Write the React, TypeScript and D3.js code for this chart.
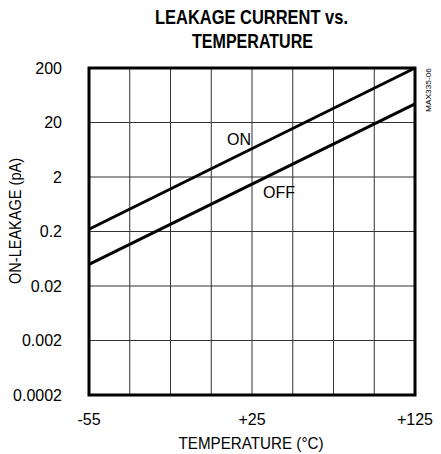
import React from "react";
import * as d3 from "d3";

const temps = [-55, 125];
const onLeakage = [0.22, 200];
const offLeakage = [0.05, 44];
const yTickValues = [0.0002, 0.002, 0.02, 0.2, 2, 20, 200];
const yTickLabels = ["0.0002", "0.002", "0.02", "0.2", "2", "20", "200"];
const xTickLabels = ["-55", "+25", "+125"];
const xGridCount = 8;

const W = 441;
const H = 454;
const margin = { left: 89, right: 26, top: 68, bottom: 59 };

export default function App() {
  const x = d3
    .scaleLinear()
    .domain([-55, 125])
    .range([margin.left, W - margin.right]);
  const y = d3
    .scaleLog()
    .domain([0.0002, 200])
    .range([H - margin.bottom, margin.top]);
  const xLabel = d3
    .scalePoint<string>()
    .domain(xTickLabels)
    .range([margin.left, W - margin.right]);

  const step = (125 - -55) / xGridCount;
  const xGrid = d3.range(xGridCount + 1).map((i) => -55 + i * step);

  const line = d3
    .line<[number, number]>()
    .x((d) => x(d[0]))
    .y((d) => y(d[1]));
  const onPts = temps.map((t, i) => [t, onLeakage[i]] as [number, number]);
  const offPts = temps.map((t, i) => [t, offLeakage[i]] as [number, number]);

  const font = "'Liberation Sans', Arial, sans-serif";
  const x0 = margin.left;
  const x1 = W - margin.right;
  const y0 = margin.top;
  const y1 = H - margin.bottom;

  return (
    <svg
      width={W}
      height={H}
      style={{ position: "absolute", left: 0, top: 0, background: "#fff" }}
      fontFamily={font}
    >
      {/* title, narrow bold */}
      <text
        x={155}
        y={24}
        fontWeight="bold"
        fontSize={21}
        textLength={193}
        lengthAdjust="spacingAndGlyphs"
      >
        LEAKAGE CURRENT vs.
      </text>
      <text
        x={192}
        y={48}
        fontWeight="bold"
        fontSize={21}
        textLength={121}
        lengthAdjust="spacingAndGlyphs"
      >
        TEMPERATURE
      </text>

      {/* grid */}
      <g stroke="#333" strokeWidth={1}>
        {xGrid.map((t, i) => (
          <line key={"vx" + i} x1={x(t)} x2={x(t)} y1={y0} y2={y1} />
        ))}
        {yTickValues.map((v, i) => (
          <line key={"hy" + i} x1={x0} x2={x1} y1={y(v)} y2={y(v)} />
        ))}
      </g>

      {/* data lines */}
      <path d={line(onPts) || ""} fill="none" stroke="#000" strokeWidth={3} />
      <path d={line(offPts) || ""} fill="none" stroke="#000" strokeWidth={3} />

      <rect
        x={x0}
        y={y0}
        width={x1 - x0}
        height={y1 - y0}
        fill="none"
        stroke="#000"
        strokeWidth={3}
      />

      <text x={239} y={145} textAnchor="middle" fontSize={16}>
        ON
      </text>
      <text x={279} y={198} textAnchor="middle" fontSize={16}>
        OFF
      </text>

      {/* y tick labels */}
      {yTickValues.map((v, i) => (
        <text
          key={"yl" + i}
          x={62}
          y={y(v)}
          dy="0.35em"
          textAnchor="end"
          fontSize={16}
        >
          {yTickLabels[i]}
        </text>
      ))}

      {/* x tick labels */}
      {xTickLabels.map((l) => (
        <text key={l} x={xLabel(l)} y={425} textAnchor="middle" fontSize={16}>
          {l}
        </text>
      ))}

      <text x={251} y={449} textAnchor="middle" fontSize={16} textLength={145} lengthAdjust="spacingAndGlyphs">
        TEMPERATURE (°C)
      </text>
      <text
        transform="translate(21,221) rotate(-90)"
        textAnchor="middle"
        fontSize={16}
        textLength={126}
        lengthAdjust="spacingAndGlyphs"
      >
        ON-LEAKAGE (pA)
      </text>
      <text
        transform="translate(431,90) rotate(-90)"
        textAnchor="middle"
        fontSize={8}
        textLength={44}
        lengthAdjust="spacingAndGlyphs"
      >
        MAX335-06
      </text>
    </svg>
  );
}
